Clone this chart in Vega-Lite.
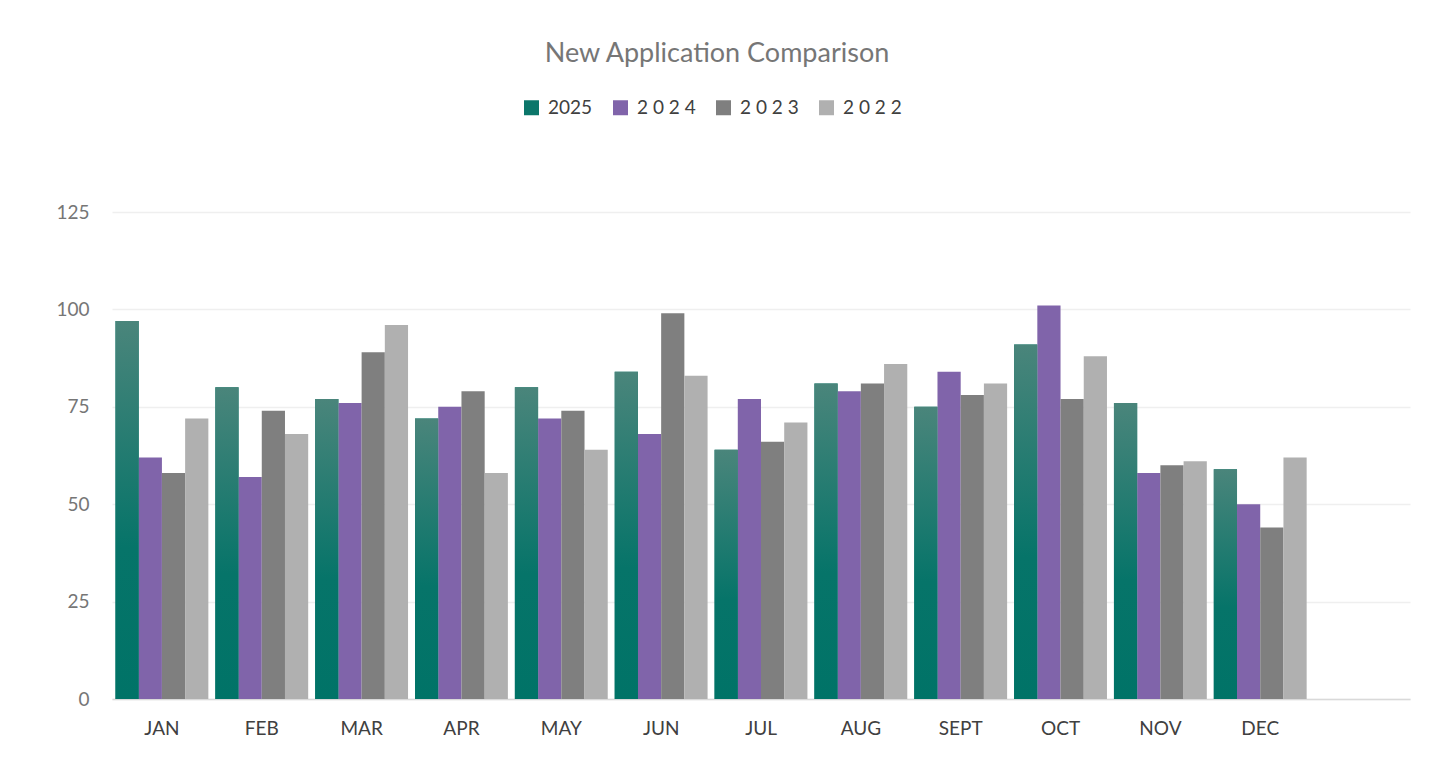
{
  "$schema": "https://vega.github.io/schema/vega-lite/v6.json",
  "autosize": {"type": "none"},
  "width": 1298,
  "height": 487,
  "padding": {"left": 112, "top": 212, "right": 23, "bottom": 77},
  "background": "white",
  "title": {
    "text": "New Application Comparison",
    "font": "Lato",
    "fontSize": 27,
    "fontWeight": "normal",
    "color": "#767676",
    "anchor": "middle",
    "frame": "group",
    "dx": -44,
    "baseline": "alphabetic",
    "offset": 9
  },
  "datasets": {
    "apps": [
      {"month": "JAN", "series": "2025", "value": 97},
      {"month": "JAN", "series": "2 0 2 4", "value": 62},
      {"month": "JAN", "series": "2 0 2 3", "value": 58},
      {"month": "JAN", "series": "2 0 2 2", "value": 72},
      {"month": "FEB", "series": "2025", "value": 80},
      {"month": "FEB", "series": "2 0 2 4", "value": 57},
      {"month": "FEB", "series": "2 0 2 3", "value": 74},
      {"month": "FEB", "series": "2 0 2 2", "value": 68},
      {"month": "MAR", "series": "2025", "value": 77},
      {"month": "MAR", "series": "2 0 2 4", "value": 76},
      {"month": "MAR", "series": "2 0 2 3", "value": 89},
      {"month": "MAR", "series": "2 0 2 2", "value": 96},
      {"month": "APR", "series": "2025", "value": 72},
      {"month": "APR", "series": "2 0 2 4", "value": 75},
      {"month": "APR", "series": "2 0 2 3", "value": 79},
      {"month": "APR", "series": "2 0 2 2", "value": 58},
      {"month": "MAY", "series": "2025", "value": 80},
      {"month": "MAY", "series": "2 0 2 4", "value": 72},
      {"month": "MAY", "series": "2 0 2 3", "value": 74},
      {"month": "MAY", "series": "2 0 2 2", "value": 64},
      {"month": "JUN", "series": "2025", "value": 84},
      {"month": "JUN", "series": "2 0 2 4", "value": 68},
      {"month": "JUN", "series": "2 0 2 3", "value": 99},
      {"month": "JUN", "series": "2 0 2 2", "value": 83},
      {"month": "JUL", "series": "2025", "value": 64},
      {"month": "JUL", "series": "2 0 2 4", "value": 77},
      {"month": "JUL", "series": "2 0 2 3", "value": 66},
      {"month": "JUL", "series": "2 0 2 2", "value": 71},
      {"month": "AUG", "series": "2025", "value": 81},
      {"month": "AUG", "series": "2 0 2 4", "value": 79},
      {"month": "AUG", "series": "2 0 2 3", "value": 81},
      {"month": "AUG", "series": "2 0 2 2", "value": 86},
      {"month": "SEPT", "series": "2025", "value": 75},
      {"month": "SEPT", "series": "2 0 2 4", "value": 84},
      {"month": "SEPT", "series": "2 0 2 3", "value": 78},
      {"month": "SEPT", "series": "2 0 2 2", "value": 81},
      {"month": "OCT", "series": "2025", "value": 91},
      {"month": "OCT", "series": "2 0 2 4", "value": 101},
      {"month": "OCT", "series": "2 0 2 3", "value": 77},
      {"month": "OCT", "series": "2 0 2 2", "value": 88},
      {"month": "NOV", "series": "2025", "value": 76},
      {"month": "NOV", "series": "2 0 2 4", "value": 58},
      {"month": "NOV", "series": "2 0 2 3", "value": 60},
      {"month": "NOV", "series": "2 0 2 2", "value": 61},
      {"month": "DEC", "series": "2025", "value": 59},
      {"month": "DEC", "series": "2 0 2 4", "value": 50},
      {"month": "DEC", "series": "2 0 2 3", "value": 44},
      {"month": "DEC", "series": "2 0 2 2", "value": 62}
    ]
  },
  "data": {"name": "apps"},
  "encoding": {
    "x": {
      "field": "month",
      "type": "nominal",
      "scale": {
        "domain": ["JAN", "FEB", "MAR", "APR", "MAY", "JUN", "JUL", "AUG", "SEPT", "OCT", "NOV", "DEC", " "],
        "paddingInner": 0.07,
        "paddingOuter": 0.035
      },
      "axis": {
        "title": null,
        "labelAngle": 0,
        "labelFont": "Lato",
        "labelFontSize": 19,
        "labelColor": "#404040",
        "labelPadding": 20,
        "ticks": false,
        "domainColor": "#d9d9d9",
        "domainWidth": 1.5,
        "grid": false
      }
    },
    "xOffset": {
      "field": "series",
      "type": "nominal",
      "scale": {"domain": ["2025", "2 0 2 4", "2 0 2 3", "2 0 2 2"], "paddingInner": 0, "paddingOuter": 0}
    },
    "y": {
      "field": "value",
      "type": "quantitative",
      "scale": {"domain": [0, 125], "nice": false},
      "axis": {
        "title": null,
        "values": [0, 25, 50, 75, 100, 125],
        "labelFont": "Lato",
        "labelFontSize": 19,
        "labelColor": "#767676",
        "labelPadding": 23,
        "ticks": false,
        "domain": false,
        "grid": true,
        "gridColor": "#efefef",
        "gridWidth": 1.5
      }
    }
  },
  "layer": [
    {
      "mark": {"type": "bar"},
      "encoding": {
        "color": {
          "field": "series",
          "type": "nominal",
          "scale": {
            "domain": ["2025", "2 0 2 4", "2 0 2 3", "2 0 2 2"],
            "range": ["#0b766a", "#8064aa", "#7f7f7f", "#b0b0b0"]
          },
          "legend": {
            "title": null,
            "orient": "none",
            "direction": "horizontal",
            "legendX": 410,
            "legendY": -114,
            "symbolType": "square",
            "symbolSize": 225,
            "symbolStrokeWidth": 0,
            "labelFont": "Lato",
            "labelFontSize": 19,
            "labelColor": "#404040",
            "labelOffset": 7,
            "columnPadding": 18
          }
        }
      }
    },
    {
      "transform": [{"filter": "datum.series === '2025'"}],
      "mark": {
        "type": "bar",
        "color": {
          "gradient": "linear",
          "x1": 0, "y1": 0, "x2": 0, "y2": 1,
          "stops": [
            {"offset": 0, "color": "#4a857b"},
            {"offset": 0.6, "color": "#067469"},
            {"offset": 1, "color": "#007367"}
          ]
        }
      }
    }
  ],
  "config": {
    "view": {"stroke": null}
  }
}
